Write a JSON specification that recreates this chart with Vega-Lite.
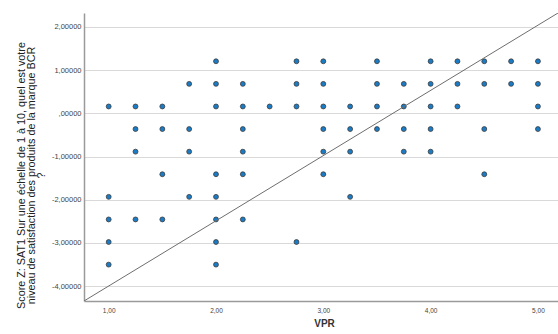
{
  "$schema": "https://vega.github.io/schema/vega-lite/v6.json",
  "width": 474,
  "height": 288,
  "autosize": {"type": "none"},
  "padding": {"left": 84, "top": 13, "right": 0, "bottom": 33},
  "background": "white",
  "config": {
    "view": {"stroke": null},
    "font": "Liberation Sans"
  },
  "datasets": {
    "pts": [
      {"VPR": 1.00, "Z": 0.160}, {"VPR": 1.00, "Z": -1.932}, {"VPR": 1.00, "Z": -2.455}, {"VPR": 1.00, "Z": -2.978}, {"VPR": 1.00, "Z": -3.501},
      {"VPR": 1.25, "Z": 0.160}, {"VPR": 1.25, "Z": -0.363}, {"VPR": 1.25, "Z": -0.886}, {"VPR": 1.25, "Z": -2.455},
      {"VPR": 1.50, "Z": 0.160}, {"VPR": 1.50, "Z": -0.363}, {"VPR": 1.50, "Z": -1.409}, {"VPR": 1.50, "Z": -2.455},
      {"VPR": 1.75, "Z": 0.683}, {"VPR": 1.75, "Z": -0.363}, {"VPR": 1.75, "Z": -0.886}, {"VPR": 1.75, "Z": -1.932},
      {"VPR": 2.00, "Z": 1.206}, {"VPR": 2.00, "Z": 0.683}, {"VPR": 2.00, "Z": 0.160}, {"VPR": 2.00, "Z": -1.409}, {"VPR": 2.00, "Z": -1.932}, {"VPR": 2.00, "Z": -2.455}, {"VPR": 2.00, "Z": -2.978}, {"VPR": 2.00, "Z": -3.501},
      {"VPR": 2.25, "Z": 0.683}, {"VPR": 2.25, "Z": 0.160}, {"VPR": 2.25, "Z": -0.363}, {"VPR": 2.25, "Z": -0.886}, {"VPR": 2.25, "Z": -1.409}, {"VPR": 2.25, "Z": -2.455},
      {"VPR": 2.50, "Z": 0.160},
      {"VPR": 2.75, "Z": 1.206}, {"VPR": 2.75, "Z": 0.683}, {"VPR": 2.75, "Z": 0.160}, {"VPR": 2.75, "Z": -2.978},
      {"VPR": 3.00, "Z": 1.206}, {"VPR": 3.00, "Z": 0.683}, {"VPR": 3.00, "Z": 0.160}, {"VPR": 3.00, "Z": -0.363}, {"VPR": 3.00, "Z": -0.886}, {"VPR": 3.00, "Z": -1.409},
      {"VPR": 3.25, "Z": 0.160}, {"VPR": 3.25, "Z": -0.363}, {"VPR": 3.25, "Z": -0.886}, {"VPR": 3.25, "Z": -1.932},
      {"VPR": 3.50, "Z": 1.206}, {"VPR": 3.50, "Z": 0.683}, {"VPR": 3.50, "Z": 0.160}, {"VPR": 3.50, "Z": -0.363},
      {"VPR": 3.75, "Z": 0.683}, {"VPR": 3.75, "Z": 0.160}, {"VPR": 3.75, "Z": -0.363}, {"VPR": 3.75, "Z": -0.886},
      {"VPR": 4.00, "Z": 1.206}, {"VPR": 4.00, "Z": 0.683}, {"VPR": 4.00, "Z": 0.160}, {"VPR": 4.00, "Z": -0.363}, {"VPR": 4.00, "Z": -0.886},
      {"VPR": 4.25, "Z": 1.206}, {"VPR": 4.25, "Z": 0.683}, {"VPR": 4.25, "Z": 0.160},
      {"VPR": 4.50, "Z": 1.206}, {"VPR": 4.50, "Z": 0.683}, {"VPR": 4.50, "Z": -0.363}, {"VPR": 4.50, "Z": -1.409},
      {"VPR": 4.75, "Z": 1.206}, {"VPR": 4.75, "Z": 0.683},
      {"VPR": 5.00, "Z": 1.206}, {"VPR": 5.00, "Z": 0.683}, {"VPR": 5.00, "Z": 0.160}, {"VPR": 5.00, "Z": -0.363}
    ],
    "ref": [
      {"VPR": 0.770, "Z": -4.343},
      {"VPR": 5.187, "Z": 2.324}
    ]
  },
  "layer": [
    {
      "data": {"name": "pts"},
      "mark": {"type": "point", "filled": true, "shape": "circle", "size": 24, "fill": "#1a7cc6", "stroke": "#3a3a3a", "strokeWidth": 0.8, "opacity": 1, "clip": true},
      "encoding": {
        "x": {
          "field": "VPR", "type": "quantitative",
          "scale": {"domain": [0.770, 5.187], "nice": false, "zero": false},
          "axis": {
            "title": "VPR",
            "values": [1, 2, 3, 4, 5],
            "labelExpr": "replace(format(datum.value, '.2f'), '.', ',')",
            "grid": false,
            "ticks": false,
            "tickSize": 0,
            "domainColor": "#9a9a9a",
            "domainWidth": 1.5,
            "labelFont": "Liberation Sans",
            "labelFontSize": 6.5,
            "labelColor": "#444444",
            "labelPadding": 6,
            "titleFont": "Liberation Sans",
            "titleFontSize": 10,
            "titleFontWeight": "bold",
            "titleColor": "#333333",
            "titleBaseline": "alphabetic",
            "titleY": 25,
            "titleX": 240
          }
        },
        "y": {
          "field": "Z", "type": "quantitative",
          "scale": {"domain": [-4.343, 2.324], "nice": false, "zero": false},
          "axis": {
            "title": ["Score Z:  SAT1 Sur une échelle de 1 à 10, quel est votre", "niveau de satisfaction des produits de la marque BCR", "?"],
            "values": [-4, -3, -2, -1, 0, 1, 2],
            "labelExpr": "datum.value == 0 ? ',00000' : (datum.value < 0 ? '-' : '') + abs(datum.value) + ',00000'",
            "grid": true,
            "gridColor": "#d9d9d9",
            "gridWidth": 1,
            "ticks": false,
            "tickSize": 0,
            "domainColor": "#9a9a9a",
            "domainWidth": 1.5,
            "labelFont": "Liberation Sans",
            "labelFontSize": 7.5,
            "labelColor": "#444444",
            "labelPadding": 3,
            "titleFont": "Liberation Sans",
            "titleFontSize": 10.8,
            "titleFontWeight": "normal",
            "titleColor": "#222222",
            "titleAngle": -90,
            "titleAlign": "center",
            "titleBaseline": "middle",
            "titleLineHeight": 10,
            "titleX": -63,
            "titleY": 162
          }
        }
      }
    },
    {
      "data": {"name": "ref"},
      "mark": {"type": "line", "color": "#6e6e6e", "strokeWidth": 1, "clip": true},
      "encoding": {
        "x": {"field": "VPR", "type": "quantitative"},
        "y": {"field": "Z", "type": "quantitative"}
      }
    }
  ]
}
